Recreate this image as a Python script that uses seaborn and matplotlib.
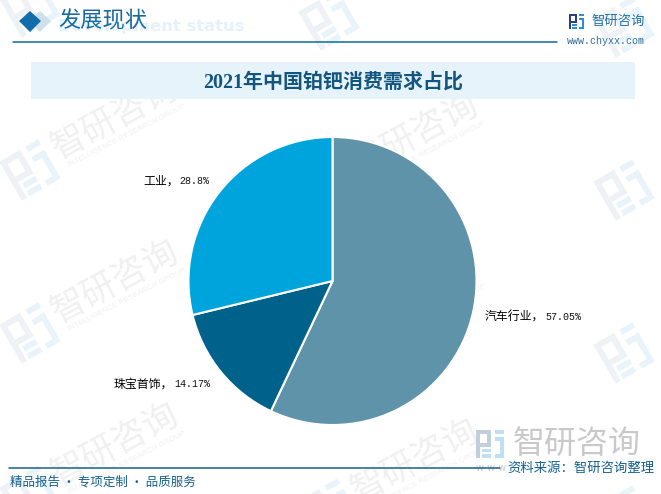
import matplotlib
matplotlib.use("Agg")
import matplotlib.pyplot as plt
from matplotlib.patches import Polygon, Rectangle
from matplotlib.transforms import Affine2D
import seaborn as sns

# 2021 platinum/palladium demand share
categories = ["汽车行业", "珠宝首饰", "工业"]
shares = [57.05, 14.17, 28.8]
share_labels = ["57.05%", "14.17%", "28.8%"]
colors = ["#5f93aa", "#00628a", "#00a4dc"]

title = "2021年中国铂钯消费需求占比"
section = "发展现状"
section_en = "Development status"
source = "资料来源：智研咨询整理"
footer = "精品报告 · 专项定制 · 品质服务"

sns.set_theme(style="white")
CJK = ["Noto Sans CJK SC", "DejaVu Sans"]
SERIF = ["Liberation Serif", "Noto Sans CJK SC"]
MONO = ["Liberation Mono", "DejaVu Sans Mono"]
plt.rcParams["font.family"] = CJK

W, H = 661, 494
fig = plt.figure(figsize=(W / 100, H / 100), dpi=100)
bg = fig.add_axes([0, 0, 1, 1], zorder=1)
bg.set_xlim(0, W)
bg.set_ylim(H, 0)
bg.axis("off")


def logo(ax, cx, cy, s, c1, c2, rot=0, z=1):
    # square brand mark centred on cx, cy, s = size in px
    tr = Affine2D().rotate_deg_around(cx, cy, -rot) + ax.transData
    x, y = cx - s / 2, cy - s / 2
    u = s / 15
    bars = [
        (0, 0, 8, 2, c1), (0, 2, 2, 5, c1), (0, 7, 8, 2, c1), (6, 2, 2, 5, c1),
        (0, 9, 2, 6, c1), (3, 10, 5, 2, c2), (3, 13, 5, 2, c2),
        (10, 0, 5, 2, c2), (10, 4, 5, 2, c2), (13, 4, 2, 11, c2), (10, 13, 3, 2, c2),
    ]
    for bx, by, bw, bh, c in bars:
        ax.add_patch(Rectangle((x + bx * u, y + by * u), bw * u, bh * u, color=c,
                               lw=0, transform=tr, zorder=z))


# watermarks
for lx, ly in [(30, 7), (30, 170), (30, 333), (30, 496), (329, 20), (329, 183), (329, 346),
               (329, 509), (624, 27), (624, 190), (624, 353), (624, 516)]:
    logo(bg, lx, ly, 45, "#eef2f6", "#e9f4fa", rot=30)
for wx, wy in [(115, 118), (115, 282), (115, 445), (415, 135), (415, 298), (415, 461)]:
    bg.text(wx, wy, "智研咨询", fontsize=25, color="#f0f0f0", rotation=28,
            ha="center", va="center", zorder=1)
    bg.text(wx + 12, wy + 18, "INTELLIGENCE RESEARCH GROUP", fontsize=5.6, color="#f0f0f0",
            rotation=27, ha="center", va="center", family=["Liberation Sans"], zorder=1)

# header
bg.add_patch(Polygon([(40, 11), (51, 21), (40, 32), (29, 21)], color="#cfe0ea", lw=0, zorder=2))
bg.add_patch(Polygon([(30, 11), (41, 21), (30, 32), (19, 21)], color="#126da8", lw=0, zorder=3))
bg.text(58, 26, section_en, fontsize=11.8, color="#e6f2fa", fontweight="bold",
        family=["DejaVu Sans"], va="center", ha="left", zorder=2)
bg.text(58, 22, section, fontsize=16, color="#17699f", va="center", ha="left", zorder=3,
        family=SERIF)
bg.plot([13, 557], [42.5, 42.5], color="#0f6a9c", lw=1.1, zorder=3)

logo(bg, 576.5, 21.5, 15, "#2b3f87", "#2a8fd6", z=3)
bg.text(591, 21, "智研咨询", fontsize=9.6, color="#1f6fa8", va="center", ha="left", zorder=3)
bg.text(645, 41, "www.chyxx.com", fontsize=7.2, color="#2f6f98", va="center", ha="right",
        family=["Liberation Mono"], zorder=3)

# title band
bg.add_patch(Rectangle((31, 62), 604, 37, color="#e6f3fb", lw=0, zorder=2))
bg.text(333, 83, title, fontsize=14.4, color="#12557f", fontweight="bold",
        ha="center", va="center", family=SERIF, zorder=3)

# pie
ax = fig.add_axes([(332.5 - 146) / W, 1 - (281 + 146) / H, 292 / W, 292 / H], zorder=2)
ax.patch.set_alpha(0)
ax.pie(shares, colors=colors, startangle=90, counterclock=False, radius=144 / 146,
       wedgeprops={"edgecolor": "white", "linewidth": 1.5})
ax.set_xlim(-1, 1)
ax.set_ylim(-1, 1)

# slice labels: name and value set side by side
fg = fig.add_axes([0, 0, 1, 1], zorder=3)
fg.set_xlim(0, W)
fg.set_ylim(H, 0)
fg.axis("off")
label_pos = [(485, 317), (114, 384), (143, 181)]
for name, val, (lx, ly) in zip(categories, share_labels, label_pos):
    fg.text(lx, ly, name + "，", fontsize=8.6, color="black", va="center", ha="left")
    fg.text(lx + len(name) * 12 + 12, ly, val, fontsize=7.2, color="#111111", va="center",
            ha="left", family=MONO)

# big logo bottom right
logo(fg, 490, 444, 28, "#c3cedd", "#bfe0f4", z=1)
fg.text(513, 444, "智研咨询", fontsize=23, color="#c9c9c9", va="center", ha="left", zorder=1)
fg.text(476, 468, "w w w", fontsize=7, color="#c9c9c9", va="center",
        ha="left", family=["DejaVu Sans"], zorder=1)

# footer
fg.plot([9, 500], [467.5, 467.5], color="#1a6189", lw=1.1, zorder=2)
fg.text(10, 482, footer, fontsize=9, color="#15608f", va="center", ha="left", zorder=3)
fg.text(655, 468, source, fontsize=9.6, color="#15608f", va="center", ha="right", zorder=3)

fig.savefig("out.png", dpi=100)
